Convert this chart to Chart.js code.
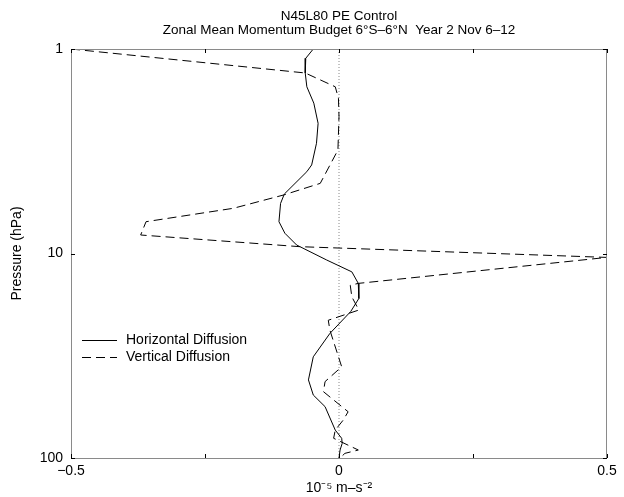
<!DOCTYPE html>
<html><head><meta charset="utf-8">
<script src="https://cdn.jsdelivr.net/npm/chart.js@4.4.1/dist/chart.umd.min.js"></script>
<style>html,body{margin:0;padding:0;background:#fff}#wrap{width:624px;height:497px}</style>
</head><body><div id="wrap"><canvas id="c" width="624" height="497"></canvas></div>
<script>
const titleLines = ['N45L80 PE Control', 'Zonal Mean Momentum Budget 6°S–6°N  Year 2 Nov 6–12'];
const xAxisTitle = '10⁻⁵ m–s⁻²';
const yAxisTitle = 'Pressure (hPa)';
const xTickValues = [-0.5, -0.25, 0, 0.25, 0.5];
const xTickLabels = ['−0.5', '', '0', '', '0.5'];
const yTickValues = [1, 10, 100];

const horizP = [1.00, 1.11, 1.31, 1.53, 1.84, 2.31, 2.89, 3.69, 3.98, 5.12, 5.69, 6.99, 7.96, 9.09, 10.76, 12.3, 14.0, 16.6, 19.2, 24.6, 32.0, 41.5, 49.2, 56.1, 73, 80.1, 84.8, 91.4, 100];
const horizX = [-0.048, -0.062, -0.063, -0.060, -0.047, -0.039, -0.042, -0.051, -0.060, -0.102, -0.109, -0.112, -0.101, -0.079, -0.023, 0.024, 0.036, 0.037, 0.022, -0.017, -0.048, -0.057, -0.048, -0.026, -0.007, 0.005, 0.006, 0.002, 0.0];

const vertP = [1.00, 1.31, 1.53, 1.74, 2.14, 3.12, 4.54, 5.18, 6.01, 6.99, 8.12, 9.26, 10.45, 14.0, 14.3, 16.3, 18.9, 21.2, 23.7, 35.8, 42.3, 47.4, 59.4, 65.2, 73, 80.1, 91.4, 94.9, 100];
const vertX = [-0.5, -0.063, -0.007, -0.001, 0.0, -0.002, -0.035, -0.104, -0.197, -0.360, -0.370, -0.073, 0.5, 0.036, 0.021, 0.024, 0.037, -0.020, -0.017, 0.005, -0.026, -0.029, 0.017, 0.008, -0.007, -0.010, 0.036, 0.011, 0.002];

const zeroLineP = [1, 100];
const zeroLineX = [0, 0];

const FONT = "'Liberation Sans', Arial, Helvetica, sans-serif";
const toPts = (xs, ps) => xs.map((x, i) => ({x: x, y: ps[i]}));

const framePlugin = {
  id: 'frame',
  afterDraw(chart) {
    const {ctx, chartArea: a, scales} = chart;
    ctx.save();
    // title centred over the plot area
    ctx.fillStyle = '#000';
    ctx.font = '13.5px ' + FONT;
    ctx.textAlign = 'center';
    ctx.textBaseline = 'middle';
    const cx = (a.left + a.right) / 2;
    ctx.fillText(titleLines[0], cx, 16);
    ctx.fillText(titleLines[1], cx, 30);
    ctx.textAlign = 'left';

    ctx.strokeStyle = '#8a8a8a';
    ctx.lineWidth = 1;
    ctx.strokeRect(a.left + 0.5, a.top + 0.5, a.right - a.left - 1, a.bottom - a.top);
    ctx.strokeStyle = '#000';
    // inward ticks
    xTickValues.forEach(v => {
      const px = Math.round(scales.x.getPixelForValue(v)) + 0.5;
      ctx.beginPath();
      ctx.moveTo(px, a.top); ctx.lineTo(px, a.top + 4);
      ctx.moveTo(px, a.bottom); ctx.lineTo(px, a.bottom - 4);
      ctx.stroke();
    });
    yTickValues.forEach(v => {
      const py = Math.round(scales.y.getPixelForValue(v)) + 0.5;
      ctx.beginPath();
      ctx.moveTo(a.left, py); ctx.lineTo(a.left + 4, py);
      ctx.moveTo(a.right, py); ctx.lineTo(a.right - 4, py);
      ctx.stroke();
    });
    // legend
    const ds = chart.data.datasets.slice(0, 2);
    ctx.font = '14px ' + FONT;
    ctx.textBaseline = 'middle';
    ctx.fillStyle = '#000';
    const lx0 = a.left + 11, lx1 = a.left + 46, tx = a.left + 55;
    const ys = [340, 357];
    ds.forEach((d, i) => {
      ctx.beginPath();
      ctx.setLineDash(d.borderDash || []);
      ctx.lineWidth = 1;
      ctx.strokeStyle = '#000';
      ctx.moveTo(lx0, ys[i] + 0.5); ctx.lineTo(lx1, ys[i] + 0.5);
      ctx.stroke();
      ctx.setLineDash([]);
      ctx.fillText(d.label, tx, ys[i]);
    });
    ctx.restore();
  }
};

new Chart(document.getElementById('c'), {
  type: 'scatter',
  data: {
    datasets: [
      {label: 'Horizontal Diffusion', data: toPts(horizX, horizP), showLine: true, borderColor: '#000', borderWidth: 1, pointRadius: 0, tension: 0},
      {label: 'Vertical Diffusion', data: toPts(vertX, vertP), showLine: true, borderColor: '#000', borderWidth: 1, borderDash: [9, 5], pointRadius: 0, tension: 0},
      {label: 'zero', data: toPts(zeroLineX, zeroLineP), showLine: true, borderColor: '#888', borderWidth: 1, borderDash: [1, 2], pointRadius: 0}
    ]
  },
  options: {
    responsive: false,
    animation: false,
    layout: {padding: {left: 0, right: 17, top: 49, bottom: 0}},
    plugins: {
      legend: {display: false},
      tooltip: {enabled: false},
      title: {display: false}
    },
    scales: {
      x: {
        type: 'linear', min: -0.5, max: 0.5,
        afterBuildTicks: s => { s.ticks = xTickValues.map(v => ({value: v})); },
        afterFit: s => { s.height = 39; },
        grid: {display: false, drawTicks: false},
        border: {display: false},
        ticks: {color: '#000', font: {family: FONT, size: 14}, padding: 5, maxRotation: 0, autoSkip: false,
          callback: (v) => { const i = xTickValues.indexOf(v); return i >= 0 ? xTickLabels[i] : ''; }},
        title: {display: true, text: xAxisTitle, color: '#000', font: {family: FONT, size: 14}, padding: {top: 0, bottom: 0}}
      },
      y: {
        type: 'logarithmic', min: 1, max: 100, reverse: true,
        afterBuildTicks: s => { s.ticks = yTickValues.map(v => ({value: v})); },
        afterFit: s => { s.width = 71; },
        grid: {display: false, drawTicks: false},
        border: {display: false},
        ticks: {color: '#000', font: {family: FONT, size: 14}, padding: 8, autoSkip: false, callback: v => String(v)},
        title: {display: true, text: yAxisTitle, color: '#000', font: {family: FONT, size: 14}, padding: {top: 9, bottom: 4}}
      }
    }
  },
  plugins: [framePlugin]
});
</script></body></html>
